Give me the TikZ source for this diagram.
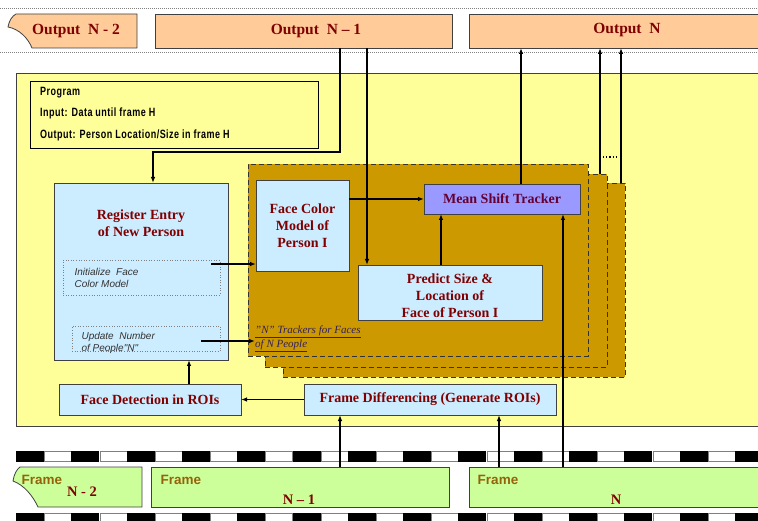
\documentclass[tikz,border=0pt]{standalone}
\usepackage{fontspec}
\setmainfont{Liberation Serif}
\newfontfamily\sansf{Liberation Sans}
\newfontfamily\progf[FakeStretch=0.75,LetterSpace=4]{Liberation Sans}
\usetikzlibrary{arrows.meta,calc}
\definecolor{outfill}{HTML}{FFCC99}
\definecolor{yel}{HTML}{FFFF99}
\definecolor{lblue}{HTML}{CCECFF}
\definecolor{gold}{HTML}{CC9900}
\definecolor{lav}{HTML}{9999FF}
\definecolor{grn}{HTML}{CCFF99}
\definecolor{dred}{HTML}{800000}
\definecolor{mpurp}{HTML}{660033}
\definecolor{lblc}{HTML}{33205E}
\definecolor{frbrown}{HTML}{94620A}
\definecolor{bord}{HTML}{404040}
\begin{document}
\begin{tikzpicture}[x=1pt,y=-1pt,
  box/.style={draw=bord,line width=0.8pt,inner sep=0pt,outer sep=0pt,rectangle},
  boxtxt/.style={font=\fontsize{14}{17}\selectfont\bfseries,text=dred,align=center},
  outtxt/.style={font=\fontsize{15.5}{18}\selectfont\bfseries,text=dred},
  frtxt/.style={font=\sansf\bfseries\fontsize{13.5}{16}\selectfont,text=frbrown},
  smalltxt/.style={font=\sansf\itshape\fontsize{10}{12.5}\selectfont,align=left,text=black!80},
  dotbox/.style={draw=gray,dotted,line width=0.6pt,inner sep=0pt,outer sep=0pt,rectangle},
  stack/.style={draw=black!80,dash pattern=on 5pt off 3pt,line width=0.9pt,fill=gold,inner sep=0pt,outer sep=0pt,rectangle},
  conn/.style={draw=black,line width=1.1pt,-{Latex[length=6pt,width=4.5pt]}}
]
\useasboundingbox (0,0) rectangle (758,521);
\fill[white] (0,0) rectangle (758,521);
\begin{scope}
\clip (0,0) rectangle (758,521);

% top dotted rules
\draw[gray,dash pattern=on 1pt off 1pt,line width=0.8pt] (0,8) -- (758,8);
\draw[gray,dash pattern=on 1pt off 1pt,line width=0.8pt] (0,52) -- (758,52);

% output boxes
\draw[draw=bord,line width=0.8pt,fill=outfill] (16,14) -- (137,14) -- (137,48) -- (32,48)
   .. controls (28,38) and (19,29) .. (8,27) .. controls (9,21) and (12,16) .. (16,14) -- cycle;
\node[outtxt] (outN2t) at (76,31) {Output\ \ N - 2};
\node[box,fill=outfill,minimum width=297,minimum height=34] (outN1) at (303.5,31) {};
\node[outtxt] (outN1t) at (316,31) {Output\ \ N -- 1};
\node[box,fill=outfill,minimum width=321,minimum height=34] (outN) at (629.5,31) {};
\node[outtxt] (outNt) at (627,30) {Output\ \ N};

% main yellow area
\node[box,fill=yel,minimum width=764,minimum height=353] (main) at (398,249.5) {};

% program box
\node[draw=black,line width=0.8pt,fill=yel,inner sep=0pt,outer sep=0pt,minimum width=288,minimum height=67] (prog) at (174,114.5) {};
\node[anchor=north west,align=left,font=\progf\bfseries\fontsize{12}{21.5}\selectfont,inner sep=0pt] (progt) at (40,87)
  {Program\\Input: Data until frame H\\Output: Person Location/Size in frame H};

% register entry
\node[box,fill=lblue,minimum width=174,minimum height=177] (reg) at (141,271.5) {};
\node[boxtxt] (regt) at (141,223) {Register Entry\\of New Person};
\node[dotbox,minimum width=157,minimum height=35] (init) at (141.5,277.5) {};
\node[smalltxt,anchor=west] (initt) at (71,278) {Initialize\ \ Face\\Color Model};
\node[dotbox,minimum width=148,minimum height=25] (upd) at (146,338.5) {};
\node[smalltxt,anchor=west] (updt) at (78,343) {Update\ \ Number\\of People"N"};

% tracker stack
\node[stack,minimum width=342,minimum height=194] (stk3) at (454,280) {};
\node[stack,minimum width=342,minimum height=193] (stk2) at (436,270.5) {};
\node[stack,minimum width=340,minimum height=192] (stk1) at (418,260) {};

\node[box,fill=lblue,minimum width=93,minimum height=91,boxtxt] (fcm) at (302.5,225.5) {Face Color\\Model of\\Person I};
\node[box,fill=lav,minimum width=156,minimum height=30,boxtxt,text=mpurp] (mst) at (502,199) {Mean Shift Tracker};
\node[box,fill=lblue,minimum width=184,minimum height=55] (pred) at (450,292.5) {};
\node[boxtxt] (predt) at (450,296) {Predict Size \&\\Location of\\Face of Person I};
\node[anchor=west,align=left,inner sep=0pt,text=lblc,font=\itshape\fontsize{11}{14}\selectfont] (trk) at (255,339)
  {\underline{"N" Trackers for Faces}\\\underline{of N People}};

% bottom boxes
\node[box,fill=lblue,minimum width=182,minimum height=31,boxtxt] (fdet) at (150,399.5) {Face Detection in ROIs};
\node[box,fill=lblue,minimum width=252,minimum height=31,boxtxt] (fdiff) at (430,399.5) {Frame Differencing (Generate ROIs)};

% film strips
\foreach \k in {0,...,13} {
  \fill[black] ({16+55.3*\k},451) rectangle +(28,11);
  \draw[gray,fill=white,line width=0.5pt] ({44.5+55.3*\k},451.5) rectangle +(27,10);
  \fill[black] ({16+55.3*\k},513) rectangle +(28,11);
  \draw[gray,fill=white,line width=0.5pt] ({44.5+55.3*\k},513.5) rectangle +(27,10);
}

% frame boxes
\draw[draw=bord,line width=0.8pt,fill=grn] (20,467) -- (142,467) -- (142,507) -- (38,507)
   .. controls (33,496) and (24,485) .. (13,481) .. controls (14,474) and (17,469) .. (20,467) -- cycle;
\node[frtxt] (frN2a) at (42,480) {Frame};
\node[outtxt,font=\fontsize{14.5}{16}\selectfont\bfseries] (frN2b) at (82,492) {N - 2};
\node[box,fill=grn,minimum width=298,minimum height=40] (frN1) at (300,487) {};
\node[frtxt] (frN1a) at (181,480) {Frame};
\node[outtxt,font=\fontsize{14.5}{16}\selectfont\bfseries] (frN1b) at (299,500) {N -- 1};
\node[box,fill=grn,minimum width=321,minimum height=40] (frN) at (629.5,487) {};
\node[frtxt] (frNa) at (498,480) {Frame};
\node[outtxt,font=\fontsize{14.5}{16}\selectfont\bfseries] (frNb) at (616,500) {N};

% helper coordinates
\coordinate (xa) at (340,0);
\coordinate (xb) at (367,0);
\coordinate (xc) at (521,0);
\coordinate (xd) at (600,0);
\coordinate (xe) at (621,0);
\coordinate (xf) at (499,0);
\coordinate (xg) at (563,0);
\coordinate (xh) at (189,0);
\coordinate (xi) at (153,0);
\coordinate (xj) at (441,0);
\coordinate (yk) at (0,152);
\coordinate (ydot) at (0,157);
\coordinate (initout) at (211,264);
\coordinate (updout) at (201,341);

% connectors
\draw[conn] (outN1.south -| xa) -- (xa |- yk) -| (reg.north -| xi);
\draw[conn] (outN1.south -| xb) -- (pred.north -| xb);
\draw[conn] (mst.north -| xc) -- (outN.south -| xc);
\draw[conn] (stk2.north -| xd) -- (outN.south -| xd);
\draw[conn] (stk3.north -| xe) -- (outN.south -| xe);
\draw[black,line width=1.2pt,dotted] ([xshift=3pt]xd |- ydot) -- ([xshift=-3pt]xe |- ydot);
\draw[conn] (fcm.east |- mst.west) -- (mst.west);
\draw[conn] (pred.north -| xj) -- (mst.south -| xj);
\draw[conn] (frN.north -| xg) -- (mst.south -| xg);
\draw[conn] (frN.north -| xf) -- (fdiff.south -| xf);
\draw[conn] (frN1.north -| xa) -- (fdiff.south -| xa);
\draw[conn] (fdiff.west) -- (fdet.east);
\draw[conn] (fdet.north -| xh) -- (reg.south -| xh);
\draw[conn] (initout) -- (fcm.west |- initout);
\draw[conn] (updout) -- (trk.west |- updout);
\end{scope}
\end{tikzpicture}
\end{document}
